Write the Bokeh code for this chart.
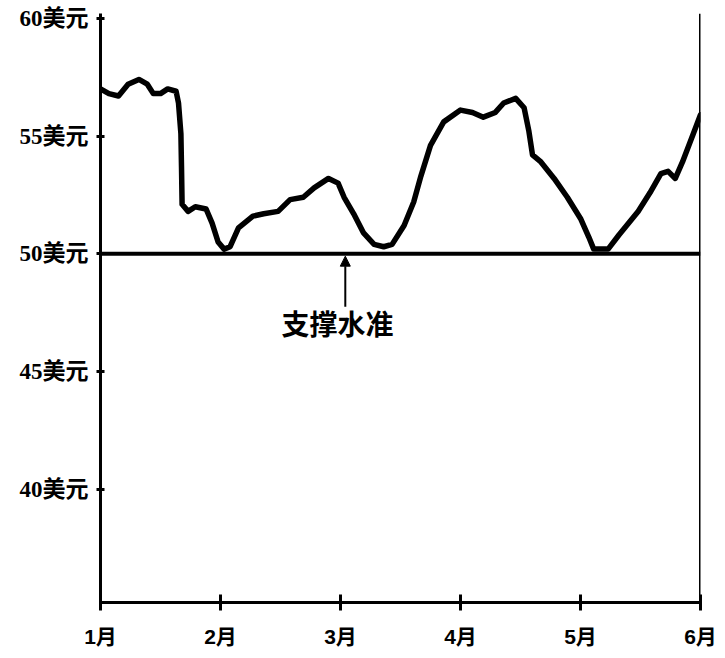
from bokeh.plotting import figure
from bokeh.models import Range1d, FixedTicker, Span, Arrow, NormalHead, Label
from bokeh.embed import file_html
from bokeh.resources import INLINE

# ---- data ----
months = [1, 2, 3, 4, 5, 6]
month_labels = ["1月", "2月", "3月", "4月", "5月", "6月"]
price_ticks = [40, 45, 50, 55, 60]
price_tick_labels = ["40美元", "45美元", "50美元", "55美元", "60美元"]
support_level = 50
support_text = "支撑水准"

t = [1.00, 1.07, 1.15, 1.23, 1.32, 1.39, 1.44, 1.50, 1.56, 1.63, 1.65, 1.67,
     1.675, 1.68, 1.73, 1.79, 1.88, 1.93, 1.98, 2.03, 2.08, 2.15, 2.27, 2.36,
     2.48, 2.58, 2.69, 2.78, 2.90, 2.98, 3.03, 3.11, 3.19, 3.28, 3.36, 3.43,
     3.53, 3.61, 3.67, 3.75, 3.86, 4.00, 4.10, 4.19, 4.29, 4.36, 4.46, 4.53,
     4.57, 4.60, 4.67, 4.78, 4.89, 5.00, 5.07, 5.11, 5.23, 5.32, 5.48, 5.58,
     5.67, 5.73, 5.79, 5.85, 5.94, 6.00]
price = [57.0, 56.8, 56.7, 57.2, 57.4, 57.2, 56.8, 56.8, 57.0, 56.9, 56.4, 55.1,
         53.7, 52.1, 51.8, 52.0, 51.9, 51.3, 50.5, 50.2, 50.3, 51.1, 51.6, 51.7,
         51.8, 52.3, 52.4, 52.8, 53.2, 53.0, 52.4, 51.7, 50.9, 50.4, 50.3, 50.4,
         51.2, 52.2, 53.3, 54.6, 55.6, 56.1, 56.0, 55.8, 56.0, 56.4, 56.6, 56.2,
         55.2, 54.2, 53.9, 53.2, 52.4, 51.5, 50.7, 50.2, 50.2, 50.8, 51.8, 52.6,
         53.4, 53.5, 53.2, 53.9, 55.1, 55.9]

# annotation placement
label_x, label_y = 2.975, 47.05
arrow_x, arrow_y0, arrow_y1 = 3.04, 47.75, 49.9

p = figure(width=717, height=650,
           x_range=Range1d(1, 6), y_range=Range1d(35.2, 60.2),
           output_backend="svg", toolbar_location=None,
           min_border_left=100, min_border_right=17,
           min_border_top=13, min_border_bottom=45)
p.outline_line_color = None
p.grid.visible = False
p.background_fill_color = "white"
p.border_fill_color = "white"

# axes
for ax in (p.xaxis, p.yaxis):
    ax.axis_line_width = 3
    ax.axis_line_color = "black"
    ax.major_tick_line_width = 3
    ax.major_tick_line_color = "black"
    ax.minor_tick_line_color = None
    ax.major_label_text_color = "black"

p.xaxis.ticker = FixedTicker(ticks=months)
p.xaxis.major_label_overrides = {m: l for m, l in zip(months, month_labels)}
p.xaxis.major_tick_in = 8
p.xaxis.major_tick_out = 8
p.xaxis.major_label_standoff = 14
p.xaxis.major_label_text_font = "'Liberation Sans', 'Noto Sans CJK SC'"
p.xaxis.major_label_text_font_size = "21px"
p.xaxis.major_label_text_font_style = "bold"

p.yaxis.ticker = FixedTicker(ticks=price_ticks)
p.yaxis.major_label_overrides = {v: l for v, l in zip(price_ticks, price_tick_labels)}
p.yaxis.major_tick_in = 4
p.yaxis.major_tick_out = 4
p.yaxis.major_label_standoff = 8
p.yaxis.major_label_text_font = "'Liberation Serif', 'Noto Sans CJK SC'"
p.yaxis.major_label_text_font_size = "23px"
p.yaxis.major_label_text_font_style = "bold"

# right frame line at June
p.add_layout(Span(location=months[-1], dimension="height",
                  line_color="black", line_width=3))

# support level
p.add_layout(Span(location=support_level, dimension="width",
                  line_color="black", line_width=4))

# price curve
p.line(t, price, line_color="black", line_width=5.5,
       line_join="round", line_cap="round")

# annotation
p.add_layout(Arrow(end=NormalHead(size=10, fill_color="black", line_color="black"),
                   x_start=arrow_x, y_start=arrow_y0,
                   x_end=arrow_x, y_end=arrow_y1,
                   line_color="black", line_width=2))
p.add_layout(Label(x=label_x, y=label_y, text=support_text,
                   text_font="Noto Sans CJK SC", text_font_style="bold",
                   text_font_size="28px", text_align="center",
                   text_baseline="middle", text_color="black"))

open("out.html", "w").write(file_html(p, INLINE))
